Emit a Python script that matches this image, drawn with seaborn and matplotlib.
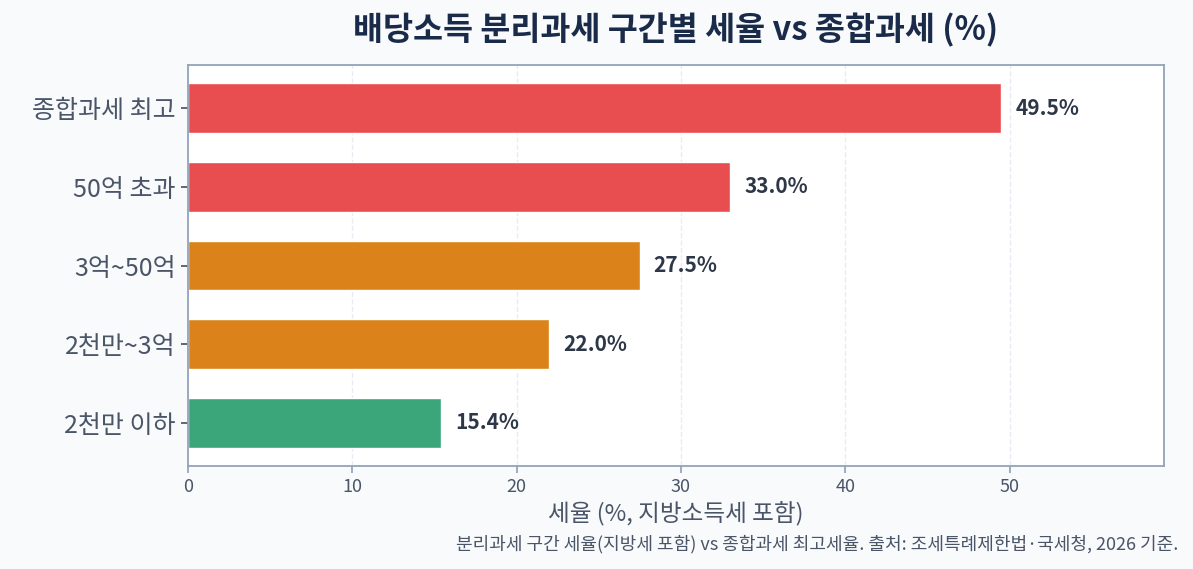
import matplotlib
matplotlib.use("Agg")
import matplotlib.pyplot as plt
import seaborn as sns
import pandas as pd

categories = ["종합과세 최고", "50억 초과", "3억~50억", "2천만~3억", "2천만 이하"]
rates = [49.5, 33.0, 27.5, 22.0, 15.4]
colors = ["#E84D4F", "#E84D4F", "#DB831A", "#DB831A", "#3BA67A"]
xticks = [0, 10, 20, 30, 40, 50]

sns.set_theme(style="white")
plt.rcParams['font.family'] = ['Noto Sans CJK KR', 'DejaVu Sans']

df = pd.DataFrame({"cat": categories, "rate": rates})

fig = plt.figure(figsize=(11.93, 5.69), dpi=100, facecolor="#F8FAFC")
ax = fig.add_axes([188/1193, 1-466/569, (1164-188)/1193, (466-65)/569])
ax.set_facecolor("white")

sns.barplot(data=df, y="cat", x="rate", hue="cat", palette=colors, legend=False,
            width=0.63, ax=ax, saturation=1)

for i, v in enumerate(rates):
    ax.annotate(f"{v:.1f}%", xy=(v, i), xytext=(10, 0), textcoords="offset points",
                ha="left", va="center", fontsize=15, fontweight="bold", color="#2D3748")

ax.set_xlim(0, 49.5 * 1.2)
ax.set_ylim(4.55, -0.55)
ax.set_xticks(xticks)
ax.set_xticklabels([str(t) for t in xticks])
ax.set_ylabel("")
ax.set_xlabel("세율 (%, 지방소득세 포함)", fontsize=17, color="#4A5568", labelpad=3)
ax.tick_params(axis="x", labelsize=13, colors="#4A5568", length=5, color="#94A3B8", bottom=True, pad=4)
ax.tick_params(axis="y", labelsize=18, colors="#4A5568", length=5, color="#4A5568", left=True, pad=4)
for s in ax.spines.values():
    s.set_color("#94A3B8")
    s.set_linewidth(1.3)
ax.xaxis.grid(True, linestyle="--", color="#E2E8F0", linewidth=1, alpha=0.8)
ax.set_axisbelow(True)

fig.suptitle("배당소득 분리과세 구간별 세율 vs 종합과세 (%)", x=(188+1164)/2/1193, y=1-30/569,
             va="center", fontsize=23.5, fontweight="bold", color="#1A2B4A")
fig.text(1178/1193, 1-544/569, "분리과세 구간 세율(지방세 포함) vs 종합과세 최고세율. 출처: 조세특례제한법·국세청, 2026 기준.",
         ha="right", va="center", fontsize=13, color="#4A5568")

fig.savefig("out.png", dpi=100, facecolor=fig.get_facecolor())
